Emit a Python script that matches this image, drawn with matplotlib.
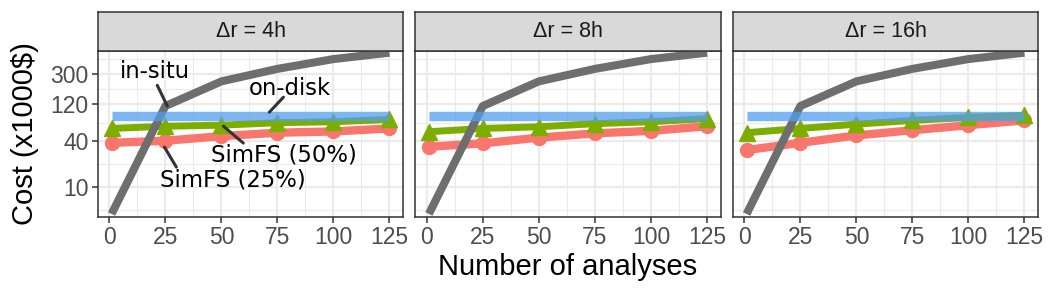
import matplotlib
matplotlib.use("Agg")
import matplotlib.pyplot as plt
import numpy as np

# ---- data ----
facets = ["Δr = 4h", "Δr = 8h", "Δr = 16h"]
n_analyses = [1, 25, 50, 75, 100, 125]
in_situ = [4.4, 114, 240, 350, 470, 570]
on_disk = [84, 84, 84, 84, 84, 84]
simfs50 = [
    [58, 62, 64, 69, 71, 76],
    [52.5, 58, 61, 67, 71, 78],
    [51, 58, 66, 74, 81, 86],
]
simfs25 = [
    [37.6, 40, 46, 51, 53, 58],
    [33.4, 37, 44, 50, 54, 62],
    [30.2, 37.6, 47, 55, 64, 74],
]
y_breaks = [10, 40, 120, 300]
x_breaks = [0, 25, 50, 75, 100, 125]

W, H = 1050, 300
fig = plt.figure(figsize=(W / 100, H / 100), dpi=100)

panel_lr = [(97.7, 403.3), (415.0, 721.0), (732.7, 1038.3)]
p_top, p_bot = 51.0, 216.7
s_top = 11.7

ylo, yhi = 4.05, 600
xlo, xhi = -5.2, 131.2

tick_font = ["Liberation Sans", "DejaVu Sans"]
grid_c = "#EBEBEB"
dark = "#333333"

# minor breaks (ggplot style midpoints in log space)
lb = np.log10(y_breaks)
ext = np.concatenate([[lb[0] - (lb[1] - lb[0])], lb, [lb[-1] + (lb[-1] - lb[-2])]])
y_minor = 10 ** ((ext[:-1] + ext[1:]) / 2)
x_minor = [12.5, 37.5, 62.5, 87.5, 112.5]

for i, (l, r) in enumerate(panel_lr):
    ax = fig.add_axes([l / W, (H - p_bot) / H, (r - l) / W, (p_bot - p_top) / H])
    ax.set_yscale("log")
    ax.set_xlim(xlo, xhi)
    ax.set_ylim(ylo, yhi)
    # grid
    for yv in y_minor:
        ax.axhline(yv, color=grid_c, lw=0.8, zorder=0)
    for yv in y_breaks:
        ax.axhline(yv, color=grid_c, lw=1.6, zorder=0)
    for xv in x_minor:
        ax.axvline(xv, color=grid_c, lw=0.8, zorder=0)
    for xv in x_breaks:
        ax.axvline(xv, color=grid_c, lw=1.6, zorder=0)

    ax.plot(n_analyses, simfs25[i], color="#F8766D", lw=6.0, marker="o",
            markersize=10, solid_capstyle="butt", zorder=2)
    ax.plot(n_analyses, simfs50[i], color="#7CAE00", lw=5.0, marker="^",
            markersize=12, solid_capstyle="butt", zorder=3)
    ax.plot(n_analyses, in_situ, color="#6E6E6E", lw=5.8,
            solid_capstyle="butt", zorder=4)
    ax.plot(n_analyses, on_disk, color="#529EEE", alpha=0.75, lw=6.8,
            solid_capstyle="butt", zorder=5)

    ax.set_xticks(x_breaks)
    ax.set_xticks([], minor=True)
    ax.set_xticklabels([str(v) for v in x_breaks], fontsize=16.5, color="#4D4D4D",
                       family=tick_font)
    ax.yaxis.set_minor_locator(matplotlib.ticker.NullLocator())
    ax.set_yticks(y_breaks)
    if i == 0:
        ax.set_yticklabels([str(v) for v in y_breaks], fontsize=16.5, color="#4D4D4D",
                           family=tick_font)
        ax.tick_params(axis="y", length=4.5, width=1.1, color=dark, pad=2)
    else:
        ax.set_yticklabels([])
        ax.tick_params(axis="y", length=0)
    ax.tick_params(axis="x", length=4.5, width=1.1, color=dark, pad=2)
    for sp in ax.spines.values():
        sp.set_color(dark)
        sp.set_linewidth(1.1)

    # strip
    sax = fig.add_axes([l / W, (H - p_top) / H, (r - l) / W, (p_top - s_top) / H])
    sax.set_facecolor("#D9D9D9")
    sax.set_xticks([])
    sax.set_yticks([])
    for sp in sax.spines.values():
        sp.set_color(dark)
        sp.set_linewidth(1.1)
    sax.text(0.5, 0.5, facets[i], ha="center", va="center", fontsize=15.5,
             color="#1A1A1A", family=tick_font, transform=sax.transAxes)

    if i == 0:
        lab_kw = dict(ha="center", va="center", fontsize=16.4, color="black",
                      family="DejaVu Sans", zorder=7)
        ann_kw = dict(arrowstyle="-", lw=2.2, color=dark, shrinkA=0, shrinkB=0)
        ax.text(20.5, 325, "in-situ", **lab_kw)
        ax.annotate("", xy=(25.9, 113.5), xytext=(21.4, 213), arrowprops=ann_kw, zorder=6)
        ax.text(80.4, 195, "on-disk", **lab_kw)
        ax.annotate("", xy=(71.4, 94.7), xytext=(77.7, 149), arrowprops=ann_kw, zorder=6)
        ax.text(78.0, 25.9, "SimFS (50%)", **lab_kw)
        ax.annotate("", xy=(50.9, 62.1), xytext=(59.8, 37.3), arrowprops=ann_kw, zorder=6)
        ax.text(55.2, 12.2, "SimFS (25%)", **lab_kw)
        ax.annotate("", xy=(24.6, 33.0), xytext=(29.9, 18.1), arrowprops=ann_kw, zorder=6)

fig.text(568 / W, 1 - 267 / H, "Number of analyses", ha="center", va="center",
         fontsize=21, family=tick_font)
fig.text(25 / W, 1 - 134 / H, "Cost (x1000$)", ha="center", va="center",
         rotation=90, fontsize=21, family=tick_font)

fig.savefig("out.png", dpi=100)
